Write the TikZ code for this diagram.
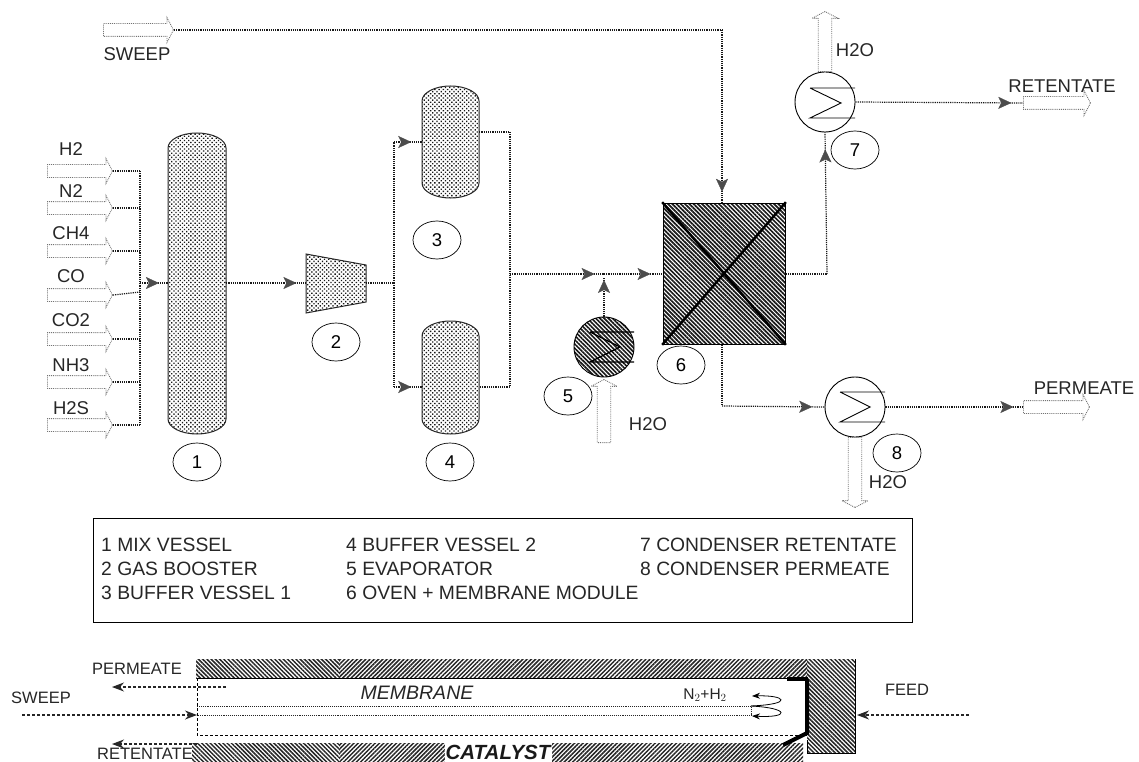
\documentclass[tikz,border=0pt]{standalone}
\usepackage{fontspec}
\setmainfont{Liberation Sans}
\usetikzlibrary{shapes.arrows,shapes.geometric,patterns,patterns.meta,decorations.markings,arrows.meta}
\newcommand{\lblsize}{\fontsize{18.5}{21}\selectfont}
\newcommand{\legsize}{\fontsize{19.3}{21}\selectfont}
\newcommand{\smallsize}{\fontsize{16.5}{18}\selectfont}
% #1 name, #2 centre x, #3 half width, #4 top y, #5 bottom y
\newcommand{\vesselshape}[5]{%
  \node[draw=none,inner sep=0pt,minimum width=2*#3 pt,minimum height=#5pt-#4pt] (#1) at (#2,{(#4+#5)/2}) {};
  \draw[vesselbody] ({#2-#3},{#4+15}) arc[start angle=180,end angle=360,x radius=#3,y radius=15]
    -- ({#2+#3},{#5-15}) arc[start angle=0,end angle=180,x radius=#3,y radius=15] -- cycle;
}
\tikzset{
  flow/.style={draw=black!90,densely dotted,line width=1.2pt},
  tiphere/.style={postaction={decorate},decoration={markings,mark=at position #1 with {\arrow[solid,black!70,line width=.3pt]{Stealth[length=13pt,width=12pt,inset=3pt]}}}},
  hollow/.style={single arrow,draw=black!55,densely dotted,line width=.9pt,inner sep=6pt,minimum height=65pt,minimum width=24pt,single arrow head extend=6pt,single arrow tip angle=125,anchor=tail},
  vesselbody/.style={draw=black!85,line width=1pt,pattern={Dots[angle=45,distance=3pt,radius=.95pt]},pattern color=black!90},
  tag/.style={ellipse,draw=black,line width=.7pt,minimum width=48pt,minimum height=38pt,inner sep=0pt,font=\lblsize},
  txt/.style={inner sep=0pt,font=\lblsize,text=black!85},
  legend/.style={inner sep=0pt,anchor=west,font=\legsize,text=black!85},
  small/.style={inner sep=0pt,font=\smallsize,text=black!85},
  exch/.style={circle,draw=black,line width=.9pt,minimum size=60pt,inner sep=0pt},
  darkhatch/.style={pattern={Lines[angle=-45,distance=3pt,line width=1.7pt]},pattern color=black!90},
  hatchl/.style={draw=none,pattern={Lines[angle=-45,distance=3pt,line width=1.5pt]},pattern color=black!85},
  hatchr/.style={draw=none,pattern={Lines[angle=45,distance=3pt,line width=1.5pt]},pattern color=black!85},
  plain/.style={-{Stealth[length=12pt,width=9pt]},black!85,line width=1.2pt,densely dashed},
  coil/.style={black,line width=.9pt},
  heavy/.style={black,line width=4pt}
}
\begin{document}
\begin{tikzpicture}[x=1pt,y=-1pt]
\useasboundingbox (0,0) rectangle (1139,762);
\clip (0,0) rectangle (1139,762);

% --- inlet arrows
\node[hollow,minimum height=70pt] (sweepin) at (103,30) {};
\node[txt] (sweeplab) at (137,54) {SWEEP};
\foreach \n/\t/\ya/\yl in {ih/H2/171/149,in/N2/208/191,ic/CH4/251/233,io/CO/295/276,id/CO2/339/320,ia/NH3/382/365,is/H2S/425/408}{
  \node[hollow] (\n) at (47,\ya) {};
  \node[txt] (\n lab) at (71,\yl) {\t};
}
\coordinate (bustop) at (140,171);
\coordinate (busbot) at (140,425);
\coordinate (busin) at (140,283);
\coordinate (buso) at (140,292);
\draw[flow] (bustop) -- (busbot);
\foreach \n in {ih,in,ic,id,ia,is}{ \draw[flow] (\n.tip) -- (\n.tip -| bustop); }
\draw[flow] (io.tip) -- (buso);

% --- vessels
\vesselshape{v1}{197}{29}{133}{434}
\vesselshape{v3}{450.5}{28.5}{86}{198}
\vesselshape{v4}{450.5}{28.5}{321}{434}
\draw[flow,tiphere=.68] (busin) -- (busin -| v1.west);

% --- booster
\coordinate (b1) at (306,254);\coordinate (b2) at (366,265);\coordinate (b3) at (366,302);\coordinate (b4) at (306,313);
\draw[vesselbody] (b1) -- (b2) -- (b3) -- (b4) -- cycle;
\coordinate (boostin) at (306,283);
\coordinate (boostout) at (366,283);
\draw[flow,tiphere=.88] (v1.east |- boostin) -- (boostin);

% --- buffer split
\coordinate (split) at (394,283);
\coordinate (splitt) at (394,142);
\coordinate (splitb) at (394,387);
\draw[flow] (boostout) -- (split);
\draw[flow] (split) -- (splitt);
\draw[flow] (split) -- (splitb);
\draw[flow,tiphere=.62] (splitt) -- (splitt -| v3.west);
\draw[flow,tiphere=.62] (splitb) -- (splitb -| v4.west);
\coordinate (jt) at (510,132);
\coordinate (jb) at (510,387);
\coordinate (jm) at (510,274);
\draw[flow] (jt -| v3.east) -- (jt) -- (jb) -- (jb -| v4.east);

% --- module 6
\node[draw=black,minimum width=122pt,minimum height=141pt,inner sep=0pt,darkhatch] (m6) at (724,273.5) {};
\draw[black,line width=2.4pt] (m6.north west) -- (m6.south east);
\draw[black,line width=2.4pt] (m6.north east) -- (m6.south west);
\coordinate (evj) at (604,274);
\draw[flow,tiphere=.9] (jm) -- (evj);
\draw[flow,tiphere=.8] (evj) -- (evj -| m6.west);

% --- sweep line
\coordinate (sweepc) at (722,30);
\draw[flow] (sweepin.tip) -- (sweepc);
\draw[flow,tiphere=.94] (sweepc) -- (sweepc |- m6.north);

% --- evaporator 5
\node[exch,darkhatch] (e5) at (604,347) {};
\draw[coil,line width=1.3pt] (590,332) -- (634,332) (590,332) -- (620,347) -- (590,362) -- (634,362);
\coordinate (evt) at (604,278);
\draw[flow,tiphere=.95] (e5.north) -- (evt);
\node[hollow,minimum height=63pt,shape border rotate=90,minimum width=26pt] (w5) at (604,443) {};
\node[txt] (w5lab) at (648,424) {H2O};
\node[tag] (t5) at (568,396) {5};
\node[tag] (t6) at (681,365) {6};

% --- condenser 7
\node[exch] (c7) at (825,102) {};
\draw[coil] (810,88) -- (855,88) (810,88) -- (841,103) -- (810,118) -- (855,118);
\node[hollow,minimum height=60pt,shape border rotate=90,minimum width=26pt] (w7) at (825,72) {};
\node[txt] (w7lab) at (855,50) {H2O};
\node[hollow,minimum height=67pt,inner sep=6pt] (ret) at (1023,103) {};
\node[txt] (retlab) at (1062,86) {RETENTATE};
\draw[flow,tiphere=.93] (c7.east) -- (ret.tail);
\coordinate (up7) at (827,274);
\draw[flow] (m6.east |- up7) -- (up7);
\draw[flow,tiphere=.88] (up7) -- (c7.south);
\node[tag] (t7) at (855,150) {7};

% --- condenser 8
\node[exch] (c8) at (855,407) {};
\draw[coil] (840,392) -- (885,392) (840,392) -- (870,407) -- (840,422) -- (885,422);
\coordinate (c8a) at (722,406);
\draw[flow] (m6.south -| c8a) -- (c8a);
\draw[flow,tiphere=.88] (c8a) -- (c8.west);
\node[hollow,minimum height=70pt,shape border rotate=270,minimum width=26pt] (w8) at (855,437) {};
\node[hollow,minimum height=66pt] (per) at (1023,407) {};
\node[txt] (perlab) at (1084,388) {PERMEATE};
\draw[flow,tiphere=.93] (c8.east) -- (per.tail);
\node[tag] (t8) at (897,453) {8};
\node[txt] (w8lab) at (888,482) {H2O};

% --- tags
\node[tag] (t1) at (197,462) {1};
\node[tag] (t2) at (336,342) {2};
\node[tag] (t3) at (437,240) {3};
\node[tag] (t4) at (450,462) {4};

% --- legend
\node[draw=black,line width=.9pt,minimum width=819pt,minimum height=104pt,inner sep=0pt] (legbox) at (502.5,570) {};
\node[legend] (l1) at (101,545) {1 MIX VESSEL};
\node[legend] (l2) at (101,569) {2 GAS BOOSTER};
\node[legend] (l3) at (101,593) {3 BUFFER VESSEL 1};
\node[legend] (l4) at (346,545) {4 BUFFER VESSEL 2};
\node[legend] (l5) at (346,569) {5  EVAPORATOR};
\node[legend] (l6) at (346,593) {6  OVEN + MEMBRANE MODULE};
\node[legend] (l7) at (640,545) {7 CONDENSER RETENTATE};
\node[legend] (l8) at (640,569) {8 CONDENSER PERMEATE};

% --- module section
\node[small] (spl) at (137,669) {PERMEATE};
\node[small] (ssw) at (41,698) {SWEEP};
\node[small] (sre) at (145,754) {RETENTATE};
\node[small] (sfe) at (907,690) {FEED};

\fill[hatchl] (196,659) rectangle (340,678);
\fill[hatchr] (340,659) rectangle (807,678);
\fill[hatchl] (807,659) rectangle (855,753);
\draw[black,line width=.6pt] (855,659) -- (855,753) -- (807,753) -- (807,740);
\fill[hatchl] (192,743) rectangle (340,762);
\fill[hatchr] (340,743) rectangle (803,762);
\fill[white] (445,743) rectangle (552,762);
\node[inner sep=0pt,font=\fontsize{20.5}{22}\selectfont\bfseries\itshape,text=black!90] (scat) at (498,752) {CATALYST};
\node[inner sep=0pt,font=\fontsize{19.5}{22}\selectfont\itshape,text=black!85] (smem) at (417,693) {MEMBRANE};
\node[small,font=\fontsize{15.5}{17}\selectfont] (sn2) at (705,695) {N$_2$+H$_2$};

\coordinate (mtl) at (197,678);
\coordinate (mtr) at (808,678);
\coordinate (mbl) at (197,735);
\coordinate (mbr) at (807,735);
\coordinate (tul) at (197,706);
\coordinate (tur) at (751,706);
\coordinate (tcl) at (197,715);
\coordinate (tcr) at (751,715);
\draw[black,line width=1pt] (mtl) -- (mtr);
\draw[black,line width=1pt,densely dashed] (mtl) -- (mbl) -- (mbr);
\draw[black!85,densely dotted,line width=.9pt] (tul) -- (tur) -- (tcr) -- (tcl);

\coordinate (pa) at (226,687);\coordinate (pb) at (112,687);
\coordinate (ra) at (197,744);\coordinate (rb) at (112,744);
\coordinate (sa) at (22,715);
\coordinate (fa) at (969,715);\coordinate (fb) at (857,715);
\draw[plain] (pa) -- (pb);
\draw[plain] (ra) -- (rb);
\draw[plain] (sa) -- (tcl);
\draw[plain] (fa) -- (fb);
\draw[heavy] (787,679) -- (808,679);
\draw[heavy] (807,679) -- (807,733) -- (783,745);
\draw[-{Stealth[length=8pt,width=6pt]},black,line width=.8pt] (tur) .. controls (795,704) and (785,695) .. (752,696);
\draw[-{Stealth[length=8pt,width=6pt]},black,line width=.8pt] (tur) .. controls (790,708) and (790,718) .. (752,716);
\end{tikzpicture}
\end{document}
